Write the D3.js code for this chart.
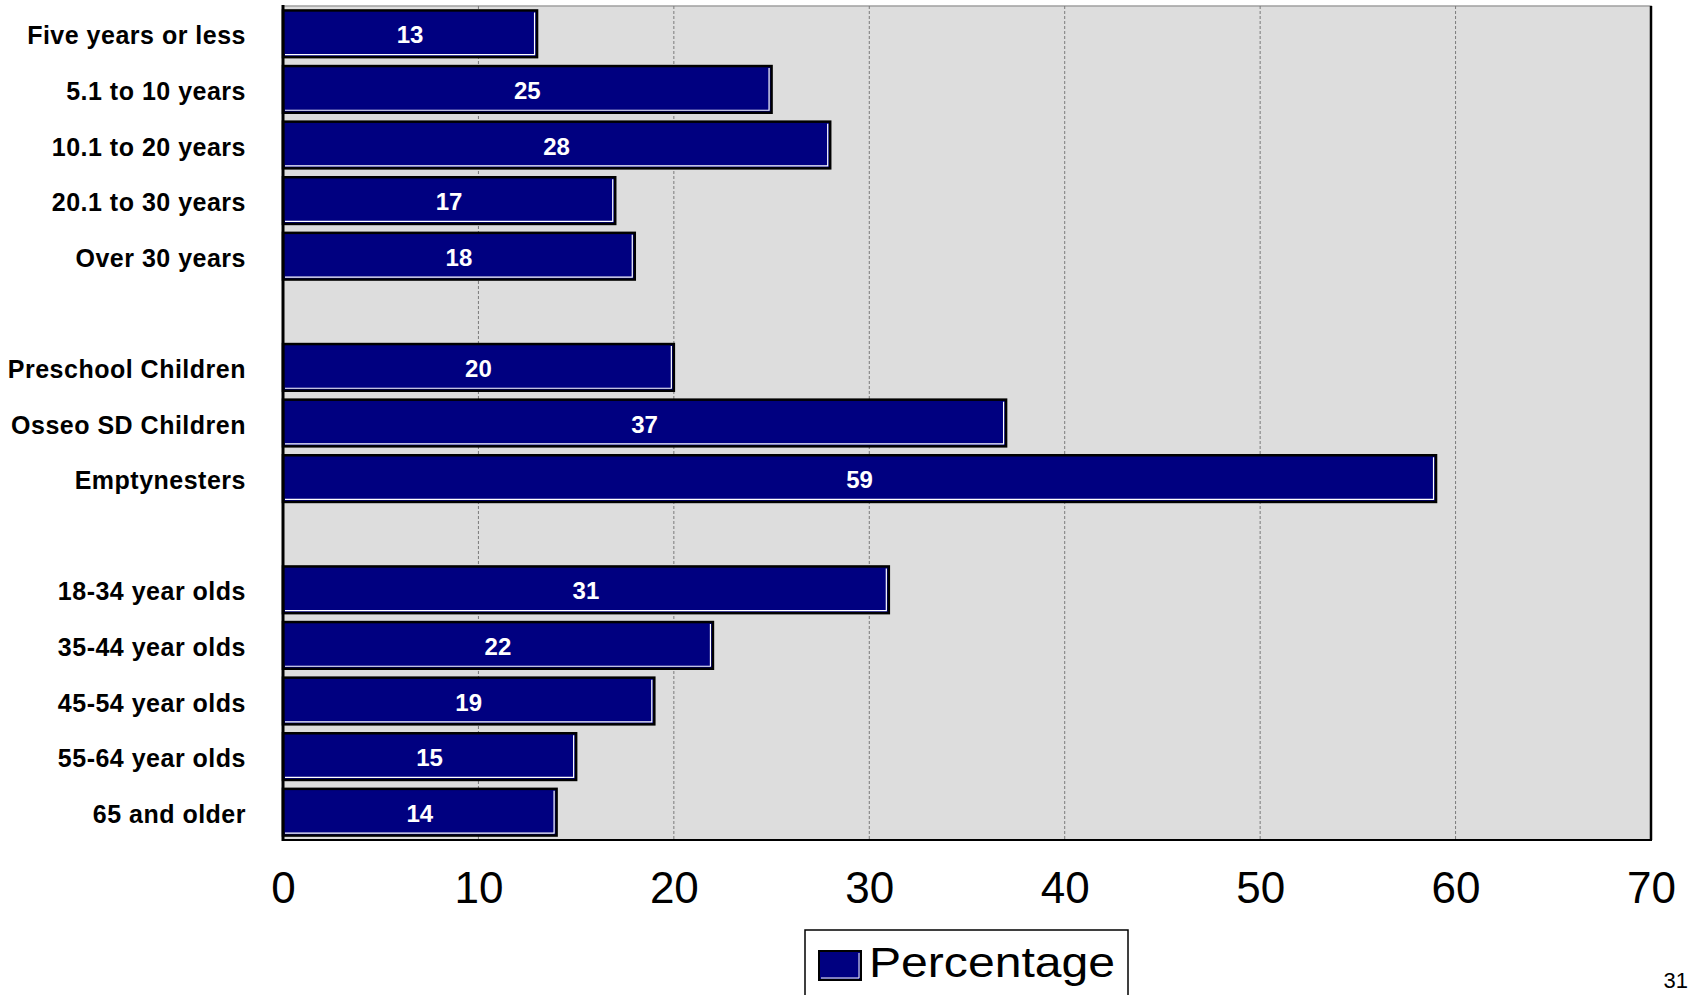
<!DOCTYPE html>
<html>
<head>
<meta charset="utf-8">
<script src="https://cdn.jsdelivr.net/npm/d3@7"></script>
<style>
  html, body { margin: 0; padding: 0; background: #ffffff; }
  svg { display: block; }
</style>
</head>
<body>
<svg id="chart" width="1692" height="995"></svg>
<script>
// ---- Data ----
const tenureLabels = ["Five years or less", "5.1 to 10 years", "10.1 to 20 years", "20.1 to 30 years", "Over 30 years"];
const tenureValues = [13, 25, 28, 17, 18];
const householdLabels = ["Preschool Children", "Osseo SD Children", "Emptynesters"];
const householdValues = [20, 37, 59];
const ageLabels = ["18-34 year olds", "35-44 year olds", "45-54 year olds", "55-64 year olds", "65 and older"];
const ageValues = [31, 22, 19, 15, 14];
const xTicks = [0, 10, 20, 30, 40, 50, 60, 70];
const seriesName = "Percentage";
const pageNumber = "31";

// Build slot list (groups separated by an empty slot)
const groups = [[tenureLabels, tenureValues], [householdLabels, householdValues], [ageLabels, ageValues]];
const slots = [];
groups.forEach(([labs, vals], gi) => {
  if (gi > 0) slots.push({ id: "gap" + gi, label: null, value: null });
  labs.forEach((l, i) => slots.push({ id: l, label: l, value: vals[i] }));
});

const W = 1692, H = 995;
const plot = { left: 283, right: 1651, top: 6, bottom: 840 };
const svg = d3.select("#chart");

const x = d3.scaleLinear().domain([0, 70]).range([plot.left, plot.right]);
const y = d3.scaleBand().domain(slots.map(d => d.id))
  .range([plot.top, plot.bottom]).paddingInner(0.16).paddingOuter(0.08);

const navy = "#000080";

// Plot background
svg.append("rect")
  .attr("x", plot.left).attr("y", plot.top)
  .attr("width", plot.right - plot.left).attr("height", plot.bottom - plot.top)
  .attr("fill", "#dddddd").attr("stroke", "#a0a0a0").attr("stroke-width", 1.5);

// Gridlines
svg.append("g").selectAll("line").data(xTicks.filter(t => t > 0 && t < 70)).join("line")
  .attr("x1", d => x(d)).attr("x2", d => x(d))
  .attr("y1", plot.top).attr("y2", plot.bottom)
  .attr("stroke", "#7a7a7a").attr("stroke-width", 1).attr("stroke-dasharray", "3,2");

// Plot border (right & bottom black)
svg.append("line").attr("x1", plot.right).attr("x2", plot.right).attr("y1", plot.top).attr("y2", plot.bottom)
  .attr("stroke", "#000").attr("stroke-width", 2.5);
svg.append("line").attr("x1", plot.left).attr("x2", plot.right + 1).attr("y1", plot.bottom).attr("y2", plot.bottom)
  .attr("stroke", "#000").attr("stroke-width", 2);

// Bars
const bars = slots.filter(d => d.value !== null);
const bg = svg.append("g");
bg.selectAll("rect.bar").data(bars).join("rect")
  .attr("class", "bar")
  .attr("x", x(0)).attr("y", d => y(d.id))
  .attr("width", d => x(d.value) - x(0)).attr("height", y.bandwidth())
  .attr("fill", navy).attr("stroke", "#000").attr("stroke-width", 2.5);
// white inner highlight along bottom and right
bg.selectAll("path.hl").data(bars).join("path")
  .attr("class", "hl")
  .attr("d", d => {
    const x0 = x(0) + 2, x1 = x(d.value) - 2.5, y0 = y(d.id) + 2, y1 = y(d.id) + y.bandwidth() - 2.5;
    return `M${x0},${y1}L${x1},${y1}L${x1},${y0}`;
  })
  .attr("fill", "none").attr("stroke", "#ffffff").attr("stroke-width", 1.2);

// Left axis line
svg.append("line").attr("x1", plot.left).attr("x2", plot.left).attr("y1", plot.top - 1).attr("y2", plot.bottom + 1)
  .attr("stroke", "#000").attr("stroke-width", 3);

// Value labels
bg.selectAll("text.val").data(bars).join("text")
  .attr("class", "val")
  .attr("x", d => x(d.value / 2)).attr("y", d => y(d.id) + y.bandwidth() / 2)
  .attr("dy", "0.4em").attr("text-anchor", "middle")
  .attr("font-family", "'Liberation Sans', Arial, sans-serif").attr("font-weight", "bold")
  .attr("font-size", 24).attr("fill", "#ffffff")
  .text(d => d.value);

// Category labels
svg.append("g").selectAll("text").data(bars).join("text")
  .attr("x", 246).attr("y", d => y(d.id) + y.bandwidth() / 2)
  .attr("dy", "0.42em").attr("text-anchor", "end")
  .attr("font-family", "'Liberation Sans', Arial, sans-serif").attr("font-weight", "bold")
  .attr("font-size", 25).attr("letter-spacing", 0.5).attr("fill", "#000")
  .text(d => d.label);

// X axis tick labels
const xAxis = d3.axisBottom(x).tickValues(xTicks).tickSize(0).tickPadding(0);
const ax = svg.append("g").attr("transform", `translate(0, ${plot.bottom})`).call(xAxis);
ax.select(".domain").remove();
ax.selectAll("text")
  .attr("y", 63).attr("dy", 0)
  .attr("font-family", "'Liberation Sans', Arial, sans-serif")
  .attr("font-size", 44).attr("fill", "#000");

// Legend
const lg = svg.append("g");
lg.append("rect").attr("x", 805).attr("y", 930).attr("width", 323).attr("height", 80)
  .attr("fill", "#fff").attr("stroke", "#000").attr("stroke-width", 1.5);
lg.append("rect").attr("x", 819).attr("y", 951).attr("width", 42).attr("height", 29)
  .attr("fill", navy).attr("stroke", "#000").attr("stroke-width", 2);
lg.append("path").attr("d", "M821,978L859,978L859,953")
  .attr("fill", "none").attr("stroke", "#fff").attr("stroke-width", 1);
lg.append("text").attr("x", 869).attr("y", 977)
  .attr("font-family", "'Liberation Sans', Arial, sans-serif").attr("font-size", 42)
  .attr("textLength", 246).attr("lengthAdjust", "spacingAndGlyphs")
  .attr("fill", "#000").text(seriesName);

// Page number
svg.append("text").attr("x", 1688).attr("y", 988).attr("text-anchor", "end")
  .attr("font-family", "'Liberation Sans', Arial, sans-serif").attr("font-size", 22)
  .attr("fill", "#000").text(pageNumber);
</script>
</body>
</html>
